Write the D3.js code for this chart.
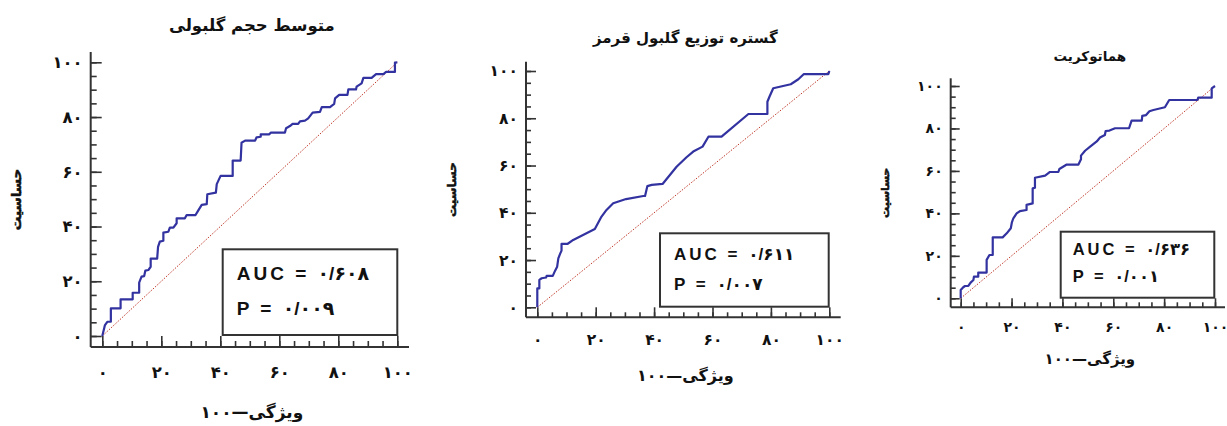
<!DOCTYPE html>
<html>
<head>
<meta charset="utf-8">
<script src="https://cdn.jsdelivr.net/npm/d3@7"></script>
<style>
  html, body { margin: 0; padding: 0; background: #fff; }
  svg { display: block; }
</style>
</head>
<body>
<div id="chart"></div>
<script>
// ROC curves, three panels (values in percent)
var titles = ["متوسط حجم گلبولی", "گستره توزیع گلبول قرمز", "هماتوکریت"];
var yTitle = "حساسیت";
var xTitle = "۱۰۰—ویژگی";
var majorTicks = [0, 20, 40, 60, 80, 100];
var minorTicks = d3.range(0, 101, 5);
var auc = [0.608, 0.611, 0.636];
var pValue = [0.009, 0.007, 0.001];

// panel 1: MCV
var mcvX = [0, 0.9, 1.7, 2.9, 2.9, 6.2, 6.2, 10.3, 10.3, 12.5, 12.5, 13.3, 14.2, 14.6, 15.6, 16.4, 16.4, 18.6, 18.9, 19.5, 20.7, 20.7, 22.4, 22.9, 24.1, 25.2, 25.2, 28.0, 28.6, 31.6, 32.5, 33.7, 35.4, 35.6, 38.5, 38.8, 40.1, 44.2, 44.2, 46.9, 47.2, 48.4, 51.8, 52.3, 53.7, 53.7, 56.6, 57.1, 61.9, 62.3, 63.6, 64.5, 66.4, 67.0, 68.7, 69.8, 71.3, 73.8, 74.4, 77.2, 78.6, 78.9, 80.3, 83.1, 83.4, 86.0, 86.2, 87.9, 88.5, 91.3, 92.8, 95.3, 96.2, 99.2, 99.2, 100];
var mcvY = [0, 4.0, 5.2, 5.2, 10.1, 10.1, 13.4, 13.4, 15.8, 15.8, 19.5, 21.7, 21.9, 23.9, 24.1, 25.3, 28.3, 28.3, 32.6, 34.5, 34.8, 37.8, 38.1, 39.6, 39.6, 41.2, 43.0, 43.0, 44.2, 44.2, 45.8, 47.9, 48.2, 51.8, 52.4, 55.5, 58.5, 58.5, 64.1, 64.1, 70.6, 71.4, 71.4, 72.6, 72.8, 73.7, 73.7, 74.3, 74.3, 75.9, 76.7, 77.5, 77.5, 78.4, 78.7, 79.5, 81.6, 81.9, 83.6, 83.6, 84.8, 86.8, 88.1, 88.1, 90.1, 90.1, 91.1, 92.3, 94.3, 94.3, 95.7, 95.7, 96.5, 96.5, 99.9, 100];

// panel 2: RDW
var rdwX = [0, 0, 0.7, 0.7, 1.5, 3.0, 3.2, 5.3, 6.1, 6.8, 7.2, 7.8, 8.3, 8.3, 10.3, 12.3, 19.7, 22.0, 23.7, 26.0, 30.4, 36.3, 36.9, 37.7, 39.2, 42.9, 47.7, 51.1, 53.4, 56.6, 58.6, 63.1, 72.3, 78.8, 78.8, 79.5, 80.8, 86.8, 89.4, 91.3, 99.7, 100];
var rdwY = [0, 8.0, 8.0, 11.6, 12.3, 12.6, 13.3, 13.3, 15.5, 17.2, 20.7, 22.6, 24.0, 26.8, 26.8, 28.5, 33.1, 38.4, 41.2, 44.0, 45.8, 47.1, 47.1, 51.3, 51.8, 52.2, 59.5, 63.5, 65.9, 68.0, 72.2, 72.2, 81.8, 81.8, 87.0, 89.1, 92.7, 94.4, 96.5, 98.7, 98.7, 100];

// panel 3: HCT
var hctX = [0, 0, 1.0, 1.7, 3.0, 3.9, 5.0, 5.2, 6.9, 6.9, 10.2, 10.2, 11.3, 12.6, 12.6, 16.5, 18.1, 19.7, 20.1, 20.7, 22.0, 23.3, 25.9, 25.9, 28.3, 28.3, 29.2, 29.2, 33.2, 35.1, 38.4, 38.8, 41.7, 46.3, 47.3, 47.3, 48.9, 50.9, 53.5, 54.8, 56.7, 57.0, 58.5, 60.7, 66.2, 67.2, 71.2, 71.4, 72.9, 74.2, 75.8, 80.3, 82.0, 93.1, 93.4, 98.7, 98.7, 100];
var hctY = [0, 3.9, 5.2, 5.8, 5.8, 7.4, 8.6, 10.2, 10.2, 12.1, 12.1, 18.1, 20.4, 20.4, 28.7, 28.7, 30.6, 33.0, 35.6, 37.7, 40.0, 41.1, 41.6, 44.0, 44.7, 51.8, 52.1, 56.8, 57.8, 59.5, 59.5, 60.9, 63.0, 63.0, 65.5, 67.2, 69.5, 71.4, 73.9, 75.7, 76.9, 78.8, 79.0, 80.1, 80.1, 83.7, 83.7, 85.9, 86.3, 88.1, 88.7, 90.0, 93.4, 93.4, 94.5, 94.5, 98.9, 100];

var curvesX = [mcvX, rdwX, hctX];
var curvesY = [mcvY, rdwY, hctY];

// page layout for each panel (pixels)
var panels = [
  { x0: 102.3, x1: 397.3, y0: 336, y1: 62.3, axX: 90.7, axY: 347, axTop: 52, axRight: 409,
    major: 11, minor: 6, tickFont: 16.5, titleFont: 16.5, labelFont: 17, yLabFont: 13.5, boxFont: 19,
    titleY: 31, yLabX: 16, xLabY: 418, xTickY: 372, tickPad: 8,
    box: [222.7, 249.3, 397.3, 335], boxTextX: 236.7, aucY: 280, pY: 315 },
  { x0: 537.3, x1: 829.3, y0: 307.3, y1: 71, axX: 526, axY: 317.3, axTop: 61.7, axRight: 840.7,
    major: 10, minor: 5, tickFont: 15.5, titleFont: 15, labelFont: 16, yLabFont: 12, boxFont: 17,
    titleY: 43, yLabX: 452, xLabY: 381, xTickY: 340, tickPad: 8,
    box: [660, 233.3, 828.7, 306.7], boxTextX: 674, aucY: 260, pY: 290 },
  { x0: 960.7, x1: 1215, y0: 298.3, y1: 86, axX: 950.7, axY: 307.3, axTop: 78.3, axRight: 1225,
    major: 9, minor: 5, tickFont: 14, titleFont: 13.5, labelFont: 15, yLabFont: 11, boxFont: 16.5,
    titleY: 61, yLabX: 885, xLabY: 364, xTickY: 327, tickPad: 8,
    box: [1060.7, 231.7, 1214.3, 297.7], boxTextX: 1072.7, aucY: 255, pY: 281.7 }
];

var width = 1227;
var height = 426;
var fa = "۰۱۲۳۴۵۶۷۸۹";
function persian(s) { return String(s).replace(/\d/g, c => fa[c]).replace(".", "/"); }

var svg = d3.select("#chart")
  .append("svg")
  .attr("width", width)
  .attr("height", height)
  .attr("font-family", "'DejaVu Sans', sans-serif")
  .attr("font-weight", "bold");

panels.forEach((p, i) => {
  var x = d3.scaleLinear().domain([0, 100]).range([p.x0, p.x1]);
  var y = d3.scaleLinear().domain([0, 100]).range([p.y0, p.y1]);
  var g = svg.append("g");

  // axes lines
  g.append("line")
    .attr("x1", p.axX).attr("x2", p.axX)
    .attr("y1", p.axTop).attr("y2", p.axY)
    .attr("stroke", "#333").attr("stroke-width", 2);
  g.append("line")
    .attr("x1", p.axX).attr("x2", p.axRight)
    .attr("y1", p.axY).attr("y2", p.axY)
    .attr("stroke", "#333").attr("stroke-width", 2);

  // y ticks (inward) with labels on the left
  g.append("g")
    .attr("transform", `translate(${p.axX},0)`)
    .call(d3.axisLeft(y).tickValues(minorTicks).tickSize(-p.minor).tickFormat(""))
    .call(a => a.select(".domain").remove());
  g.append("g")
    .attr("transform", `translate(${p.axX},0)`)
    .call(d3.axisLeft(y).tickValues(majorTicks).tickSize(-p.major).tickFormat(persian))
    .call(a => a.select(".domain").remove())
    .call(a => a.selectAll("text").attr("x", -p.tickPad))
    .attr("font-size", p.tickFont)
    .attr("font-family", "'DejaVu Sans', sans-serif");

  // x ticks (inward) with labels below
  g.append("g")
    .attr("transform", `translate(0,${p.axY})`)
    .call(d3.axisBottom(x).tickValues(minorTicks).tickSize(-p.minor).tickFormat(""))
    .call(a => a.select(".domain").remove());
  g.append("g")
    .attr("transform", `translate(0,${p.axY})`)
    .call(d3.axisBottom(x).tickValues(majorTicks).tickSize(-p.major).tickFormat(persian))
    .call(a => a.select(".domain").remove())
    .call(a => a.selectAll("text").attr("y", p.xTickY - p.axY).attr("dy", "0.35em"))
    .attr("font-size", p.tickFont)
    .attr("font-family", "'DejaVu Sans', sans-serif");

  g.selectAll(".tick line").attr("stroke", "#333").attr("stroke-width", 1.6);
  g.selectAll(".tick text").attr("fill", "#111").attr("font-weight", "bold");

  // chance diagonal
  g.append("line")
    .attr("x1", x(0)).attr("y1", y(0))
    .attr("x2", x(100)).attr("y2", y(100))
    .attr("stroke", "#c0392b").attr("stroke-width", 1)
    .attr("stroke-dasharray", "1.5,1.5");

  // ROC curve
  var pts = curvesX[i].map((v, k) => [v, curvesY[i][k]]);
  g.append("path")
    .datum(pts)
    .attr("fill", "none")
    .attr("stroke", "#3232a0")
    .attr("stroke-width", 2.2)
    .attr("stroke-linejoin", "round")
    .attr("d", d3.line().x(d => x(d[0])).y(d => y(d[1])));

  // AUC box
  g.append("rect")
    .attr("x", p.box[0]).attr("y", p.box[1])
    .attr("width", p.box[2] - p.box[0]).attr("height", p.box[3] - p.box[1])
    .attr("fill", "#fff").attr("stroke", "#333").attr("stroke-width", 2);
  g.append("text")
    .attr("x", p.boxTextX).attr("y", p.aucY)
    .attr("font-size", p.boxFont)
    .attr("font-family", "'Liberation Sans', 'DejaVu Sans', sans-serif")
    .attr("letter-spacing", 3)
    .attr("fill", "#111")
    .text("AUC = " + persian(auc[i].toFixed(3)));
  g.append("text")
    .attr("x", p.boxTextX).attr("y", p.pY)
    .attr("font-size", p.boxFont)
    .attr("font-family", "'Liberation Sans', 'DejaVu Sans', sans-serif")
    .attr("letter-spacing", 3)
    .attr("fill", "#111")
    .text("P = " + persian(pValue[i].toFixed(3)));

  // titles
  var cx = (p.axX + p.axRight) / 2 + 2;
  g.append("text")
    .attr("x", cx).attr("y", p.titleY)
    .attr("text-anchor", "middle")
    .attr("font-size", p.titleFont)
    .attr("fill", "#111")
    .text(titles[i]);
  g.append("text")
    .attr("x", cx).attr("y", p.xLabY)
    .attr("text-anchor", "middle")
    .attr("font-size", p.labelFont)
    .attr("fill", "#111")
    .text(xTitle);
  g.append("text")
    .attr("transform", `translate(${p.yLabX},${(p.axTop + p.axY) / 2}) rotate(-90)`)
    .attr("text-anchor", "middle")
    .attr("dy", "0.35em")
    .attr("font-size", p.yLabFont)
    .attr("fill", "#111")
    .attr("stroke", "#111")
    .attr("stroke-width", 0.5)
    .text(yTitle);
});
</script>
</body>
</html>
